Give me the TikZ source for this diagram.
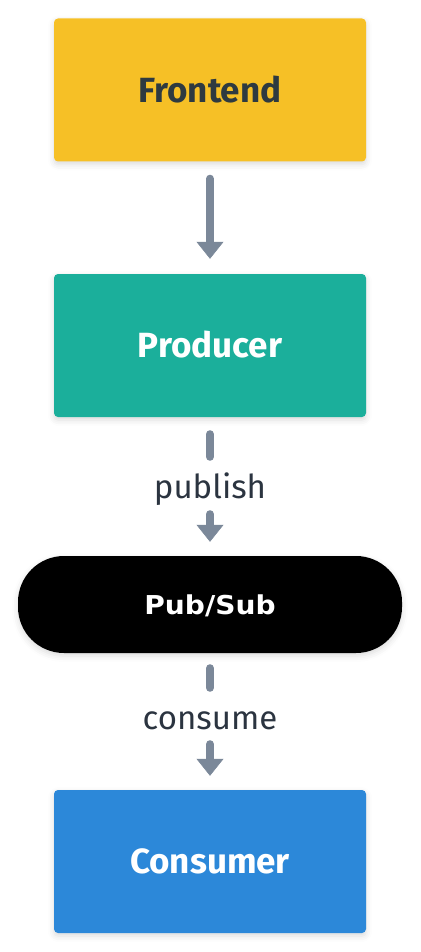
\documentclass[tikz,border=0pt]{standalone}
\usepackage{fontspec}
\setmainfont{Fira Sans}
\newfontfamily\boxfont{Fira Sans}
\newfontfamily\pillfont[FakeStretch=1.08]{DejaVu Sans}
\usetikzlibrary{arrows.meta,shadows.blur}
\definecolor{cFront}{HTML}{F6C026}
\definecolor{cProd}{HTML}{1BAF9B}
\definecolor{cCons}{HTML}{2C88D9}
\definecolor{cArrow}{HTML}{7B8899}
\definecolor{cDark}{HTML}{2E3A40}
\definecolor{cLabel}{HTML}{2B3440}
\begin{document}
\begin{tikzpicture}[x=1pt,y=-1pt,
  softshadow/.style={blur shadow={shadow xshift=0pt, shadow yshift=-3pt, shadow opacity=14, shadow blur radius=6pt}},
  box/.style={rectangle, rounded corners=4pt, minimum width=312pt, minimum height=143pt,
    inner sep=0pt, text height=24.5pt, text depth=0pt, softshadow,
    font=\boxfont\bfseries\fontsize{35}{40}\selectfont},
  pill/.style={rectangle, rounded corners=46pt, minimum width=384pt, minimum height=97pt,
    inner sep=0pt, fill=black, text=white, text height=19pt, text depth=0pt, softshadow,
    font=\pillfont\bfseries\fontsize{26}{30}\selectfont},
  lbl/.style={inner sep=0pt, anchor=base, text=cLabel, text height=24pt, text depth=8pt,
    font=\fontsize{33}{38}\selectfont},
  conn/.style={draw=cArrow, line width=8pt, line cap=round},
  arr/.style={conn, -{Triangle[width=27pt,length=17pt,line width=0.5pt]}}
]
\useasboundingbox (0,0) rectangle (420,952);
\node[box, fill=cFront, text=cDark] (frontend) at (210,90) {Frontend};
\node[box, fill=cProd, text=white] (producer) at (210,345.5) {Producer};
\node[pill] (pubsub) at (210,604.5) {Pub/Sub};
\node[box, fill=cCons, text=white] (consumer) at (210,861.5) {Consumer};
\node[lbl] (publab) at (210,498) {publish};
\node[lbl] (conlab) at (210,729) {consume};

\draw[arr, shorten <=17pt, shorten >=15pt] (frontend.south) -- (producer.north);
\draw[conn, shorten <=17pt, shorten >=17pt] (producer.south) -- (publab.north);
\draw[arr, shorten <=8pt, shorten >=14pt] (publab.south) -- (pubsub.north);
\draw[conn, shorten <=15pt, shorten >=17pt] (pubsub.south) -- (conlab.north);
\draw[arr, shorten <=7pt, shorten >=14pt] (conlab.south) -- (consumer.north);
\end{tikzpicture}
\end{document}
